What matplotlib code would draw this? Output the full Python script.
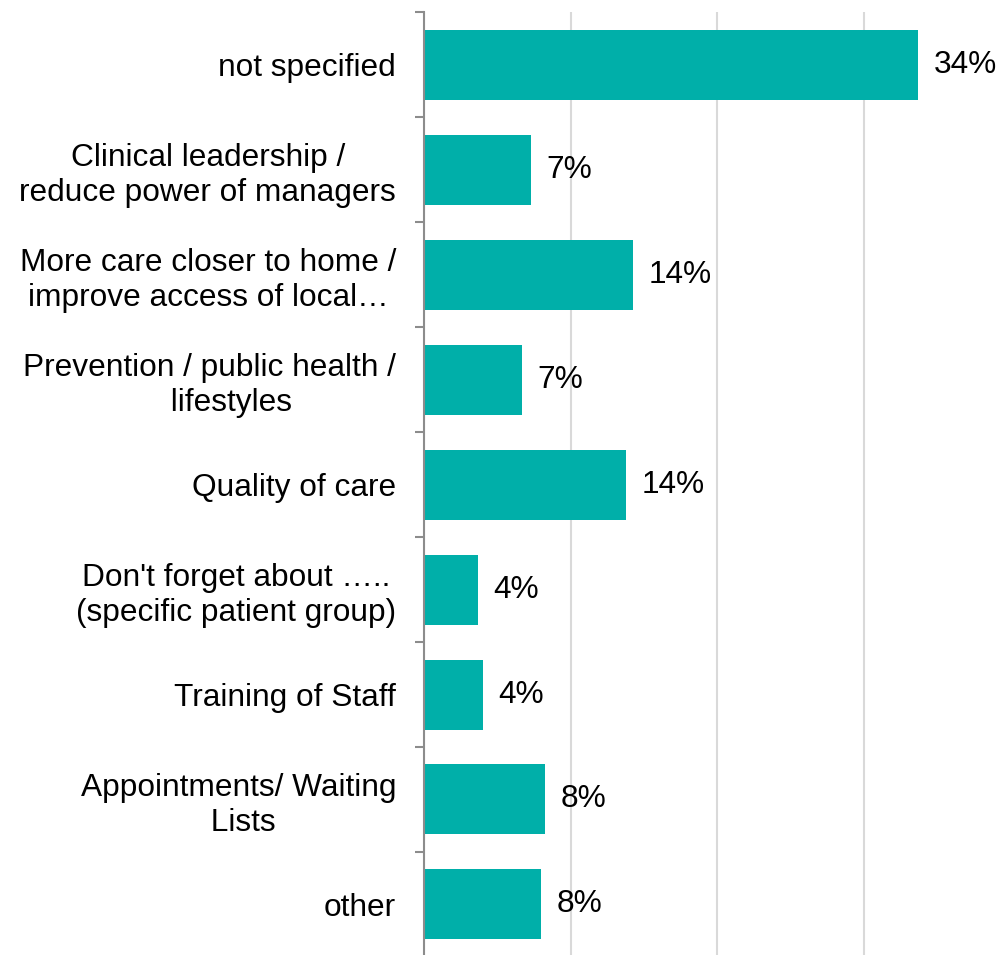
import matplotlib
matplotlib.use("Agg")
import matplotlib.pyplot as plt

# data (percent of responses)
categories = [
    "not specified",
    "Clinical leadership /\nreduce power of managers",
    "More care closer to home /\nimprove access of local\u2026",
    "Prevention / public health /\n     lifestyles",
    "Quality of care",
    "Don't forget about \u2026..\n(specific patient group)",
    "Training of Staff",
    "Appointments/ Waiting\n Lists",
    "other",
]
values = [33.7, 7.3, 14.25, 6.7, 13.8, 3.7, 4.0, 8.25, 8.0]
labels = ["34%", "7%", "14%", "7%", "14%", "4%", "4%", "8%", "8%"]

plt.rcParams['font.family'] = ['Liberation Sans', 'DejaVu Sans']
FS = 22.8

fig = plt.figure(figsize=(10, 9.55), dpi=100)
ax = fig.add_axes([0.424, -0.002, 0.576, 0.989])

y = list(range(len(categories)))
ax.barh(y, values, height=0.667, color='#00AFA9', zorder=3)

# value labels next to each bar
for yi, v, lab in zip(y, values, labels):
    ax.annotate(lab, (v, yi), xytext=(11, 0), textcoords='offset points',
                va='center', ha='left', fontsize=FS, color='black')

ax.set_ylim(len(categories) - 0.5, -0.5)
ax.set_xlim(0, 39.27)

ax.set_yticks(y)
ax.set_yticklabels(categories, fontsize=FS, multialignment='center')
ax.tick_params(axis='y', which='major', length=0, pad=20)
# ticks sit between categories
ax.set_yticks([i - 0.5 for i in range(len(categories) + 1)], minor=True)
ax.tick_params(axis='y', which='minor', length=6.5, width=1.5, color='#8c8c8c')

ax.set_xticks([0, 10, 20, 30])
ax.tick_params(axis='x', length=0, labelbottom=False)
ax.grid(axis='x', color='#d9d9d9', linewidth=1.5, zorder=0)

for s in ['top', 'right', 'bottom']:
    ax.spines[s].set_visible(False)
ax.spines['left'].set_color('#8c8c8c')
ax.spines['left'].set_linewidth(1.5)
ax.spines['left'].set_zorder(4)

fig.savefig("out.png", dpi=100)
